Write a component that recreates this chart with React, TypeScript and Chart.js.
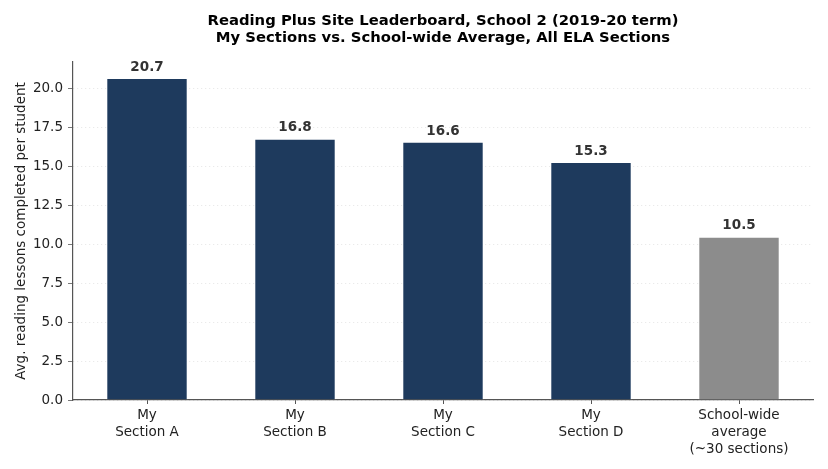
import React, { useEffect, useRef } from "react";
import { Chart, registerables } from "chart.js";

Chart.register(...registerables);

const categories: string[][] = [
  ["My", "Section A"],
  ["My", "Section B"],
  ["My", "Section C"],
  ["My", "Section D"],
  ["School-wide", "average", "(~30 sections)"],
];
const values: number[] = [20.7, 16.8, 16.6, 15.3, 10.5];
const barColors: string[] = ["#1e3a5d", "#1e3a5d", "#1e3a5d", "#1e3a5d", "#8c8c8c"];
const yTicks: number[] = [0, 2.5, 5, 7.5, 10, 12.5, 15, 17.5, 20];
const titleLines: string[] = [
  "Reading Plus Site Leaderboard, School 2 (2019-20 term)",
  "My Sections vs. School-wide Average, All ELA Sections",
];
const yAxisTitle = "Avg. reading lessons completed per student";
const yMax = 21.735;

const FONT = "'DejaVu Sans', sans-serif";

const textPlugin = {
  id: "textPlugin",
  afterDatasetsDraw(chart: any) {
    const ctx = chart.ctx;
    const meta = chart.getDatasetMeta(0);
    ctx.save();
    ctx.font = `bold 13.5px ${FONT}`;
    ctx.fillStyle = "#333333";
    ctx.textAlign = "center";
    ctx.textBaseline = "bottom";
    meta.data.forEach((el: any, i: number) => {
      ctx.fillText(values[i].toFixed(1), el.x, el.y - 4);
    });
    ctx.restore();
  },
  afterDraw(chart: any) {
    const ctx = chart.ctx;
    const area = chart.chartArea;
    const cx = (area.left + area.right) / 2;
    ctx.save();
    ctx.font = `bold 14.8px ${FONT}`;
    ctx.fillStyle = "#000000";
    ctx.textAlign = "center";
    ctx.textBaseline = "middle";
    titleLines.forEach((t, i) => ctx.fillText(t, cx, 21 + i * 17.5));
    ctx.font = `13.5px ${FONT}`;
    ctx.fillStyle = "#222222";
    ctx.translate(21, (area.top + area.bottom) / 2);
    ctx.rotate(-Math.PI / 2);
    ctx.fillText(yAxisTitle, 0, 0);
    ctx.restore();
  },
};

export default function App() {
  const ref = useRef<HTMLCanvasElement | null>(null);
  useEffect(() => {
    if (!ref.current) return;
    const chart = new Chart(ref.current, {
      type: "bar",
      data: {
        labels: categories,
        datasets: [
          {
            data: values,
            backgroundColor: barColors,
            borderColor: "rgba(255,255,255,0.45)",
            borderWidth: 1,
            barPercentage: 0.55,
            categoryPercentage: 1,
          },
        ],
      },
      options: {
        animation: false,
        responsive: false,
        devicePixelRatio: 1,
        layout: { padding: { top: 62, right: 15, left: 0, bottom: 0 } },
        plugins: {
          legend: { display: false },
          title: { display: false },
          tooltip: { enabled: false },
        },
        scales: {
          x: {
            offset: true,
            grid: {
              offset: false,
              drawOnChartArea: false,
              drawTicks: true,
              tickLength: 4,
              tickColor: "#555555",
            },
            border: { display: true, color: "#555555", width: 1.2 },
            ticks: {
              color: "#222222",
              font: { family: FONT, size: 13.5, lineHeight: 1.25 },
              padding: 3,
              maxRotation: 0,
              autoSkip: false,
            },
            afterFit(scale: any) {
              scale.height = 69;
            },
          },
          y: {
            min: 0,
            max: yMax,
            afterBuildTicks(scale: any) {
              scale.ticks = yTicks.map((v) => ({ value: v }));
            },
            grid: {
              color: "#dddddd",
              lineWidth: 0.8,
              drawTicks: true,
              tickLength: 5,
              tickColor: "#555555",
              tickBorderDash: [],
            },
            border: { display: true, color: "#555555", width: 1.2, dash: [1, 3] },
            ticks: {
              color: "#222222",
              font: { family: FONT, size: 13.5 },
              padding: 5,
              callback: (v: any) => Number(v).toFixed(1),
            },
            afterFit(scale: any) {
              scale.width = 73;
            },
          },
        },
      },
      plugins: [textPlugin],
    });
    return () => chart.destroy();
  }, []);
  return (
    <div style={{ position: "absolute", left: 0, top: 0, width: 828, height: 469, background: "#ffffff" }}>
      <canvas ref={ref} width={828} height={469} style={{ display: "block" }} />
    </div>
  );
}
